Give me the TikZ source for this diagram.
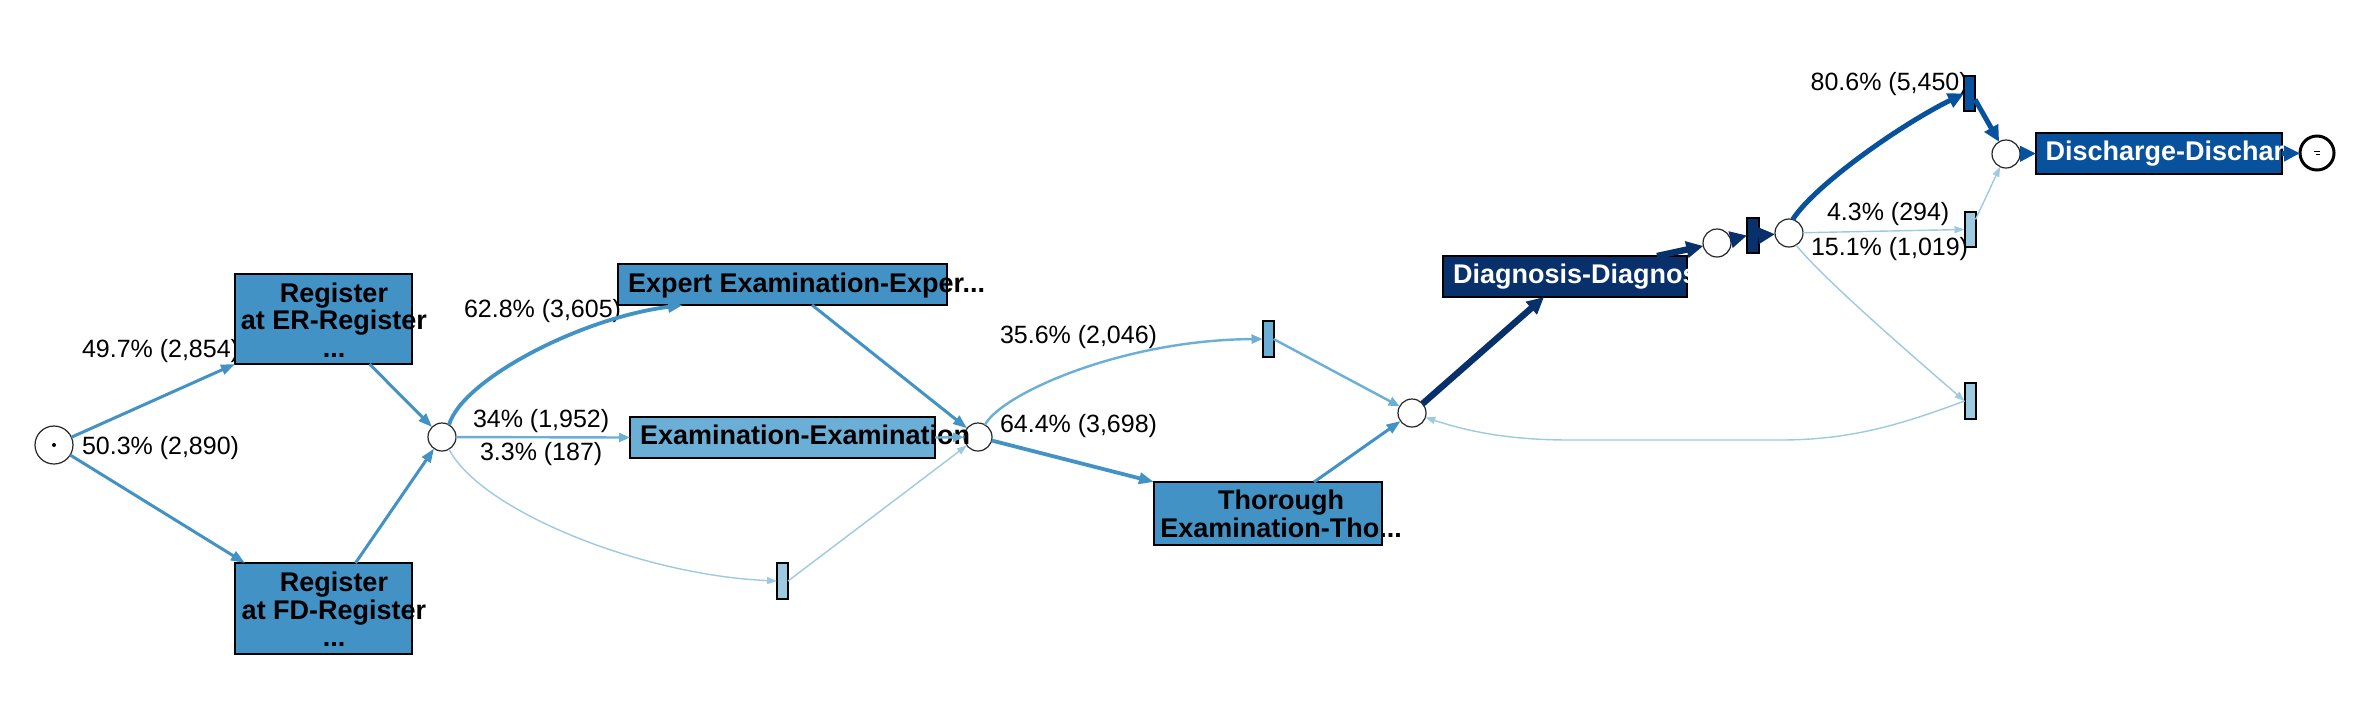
\documentclass[tikz,border=0pt]{standalone}
\usepackage{fontspec}
\setmainfont{Liberation Sans}
\usetikzlibrary{arrows.meta}
\definecolor{cA}{HTML}{4292C6}
\definecolor{cB}{HTML}{6BAED6}
\definecolor{cC}{HTML}{9ECAE1}
\definecolor{cD}{HTML}{08306B}
\definecolor{cE}{HTML}{08519C}
\begin{document}
\begin{tikzpicture}[x=0.5pt,y=-0.5pt,
  every node/.style={inner sep=0pt, outer sep=0pt},
  box/.style={draw=black, line width=1pt, rectangle},
  pl/.style={circle, draw=black!85, line width=0.6pt, minimum size=14pt},
  bar/.style={draw=black, line width=1pt, rectangle, minimum width=5.5pt, minimum height=17.5pt},
  lbl/.style={anchor=base west, font=\fontsize{12.5}{15}\selectfont},
  ttl/.style={font=\fontsize{13.5}{13.75}\selectfont\bfseries},
  eA/.style={draw=cA, line width=1.5pt, -{Triangle[length=7pt,width=5pt]}},
  eAA/.style={draw=cA, line width=1.9pt, -{Triangle[length=7.5pt,width=5.5pt]}},
  eB/.style={draw=cB, line width=1.2pt, -{Triangle[length=5.5pt,width=4.5pt]}},
  eC/.style={draw=cC, line width=0.7pt, -{Triangle[length=5pt,width=3.5pt]}},
  eD/.style={draw=cD, line width=3.2pt, -{Triangle[length=8.5pt,width=8pt]}},
  eE/.style={draw=cE, line width=2.5pt, -{Triangle[length=8pt,width=7.5pt]}}
]
\fill[white] (0,0) rectangle (2380,708);
\useasboundingbox (0,0) rectangle (2380,708);

% labels
\node[lbl] (l1) at (82,357) {49.7\% (2,854)};
\node[lbl] (l2) at (82,454) {50.3\% (2,890)};
\node[lbl] (l3) at (464,317) {62.8\% (3,605)};
\node[lbl] (l4) at (473,427) {34\% (1,952)};
\node[lbl] (l5) at (480,460) {3.3\% (187)};
\node[lbl] (l6) at (1000,343) {35.6\% (2,046)};
\node[lbl] (l7) at (1000,432) {64.4\% (3,698)};
\node[lbl] (l8) at (1827,220) {4.3\% (294)};
\node[lbl] (l9) at (1811,255) {15.1\% (1,019)};
\node[lbl] (l10) at (1810.6,90) {80.6\% (5,450)};

% boxes
\node[box, fill=cA, minimum width=88.5pt, minimum height=45pt] (er) at (323.5,319) {};
\node[box, fill=cA, minimum width=88.5pt, minimum height=45.5pt] (fd) at (323.5,608.5) {};
\node[box, fill=cA, minimum width=164.5pt, minimum height=20.5pt] (expert) at (782.5,284.5) {};
\node[box, fill=cB, minimum width=152.5pt, minimum height=20.5pt] (exam) at (782.5,437.5) {};
\node[box, fill=cA, minimum width=114pt, minimum height=31.5pt] (thor) at (1268,513.5) {};
\node[box, fill=cD, minimum width=122pt, minimum height=20.5pt] (diag) at (1565,276.5) {};
\node[box, fill=cE, minimum width=123pt, minimum height=20.5pt] (dis) at (2159,153.5) {};

% places
\node[pl, minimum size=19pt] (start) at (54,445) {};
\node[pl] (p2) at (442,437) {};
\node[pl] (p3) at (978,437) {};
\node[pl] (p4) at (1412,413) {};
\node[pl] (p5) at (1717,243) {};
\node[pl] (p6) at (1789,233) {};
\node[pl] (p7) at (2006,154) {};
\node[circle, draw=black, line width=1.5pt, minimum size=17pt] (end) at (2317,153) {};

% bars
\node[bar, fill=cC, minimum height=18pt] (bar1) at (782.5,581) {};
\node[bar, fill=cB, minimum height=18pt] (bar2) at (1268,339) {};
\node[bar, fill=cD, minimum width=6pt] (bar3) at (1753,235.5) {};
\node[bar, fill=cC] (bar4) at (1970,229.5) {};
\node[bar, fill=cC, minimum height=18pt] (bar5) at (1970,401) {};
\node[bar, fill=cE] (bar6) at (1969.5,93.5) {};

% box texts
\node[ttl, align=center] (erT) at (334,320) {Register\\at ER-Register\\...};
\node[ttl, align=center] (fdT) at (334,609.5) {Register\\at FD-Register\\...};
\node[ttl, anchor=base west] (expT) at (628,292) {Expert Examination-Exper...};
\node[ttl, anchor=base west] (examT) at (640,444) {Examination-Examination};
\node[ttl, align=center] (thorT) at (1281,514) {Thorough\\Examination-Tho...};
\node[ttl, anchor=base west, text=white] (diagT) at (1453,283) {Diagnosis-Diagnos};
\node[ttl, anchor=base west, text=white] (disT) at (2045.6,160) {Discharge-Dischar};

% marks in start / end
\fill (start.center) circle (1pt);
\draw[line width=0.5pt] ([xshift=-1.5pt,yshift=1pt]end.center) -- ++(3pt,0);
\draw[line width=0.5pt] ([xshift=-0.5pt,yshift=-0.5pt]end.center) -- ++(2pt,0);

% edges
\draw[eA] (start) -- (er.south west);
\draw[eA] (start) -- ([xshift=5pt]fd.north west);
\draw[eA] ([xshift=23pt]er.south) -- (p2);
\draw[eA] ([xshift=16pt]fd.north) -- (p2);
\draw[eAA] (p2.60) .. controls (462,380) and (580,318) .. ([xshift=32.5pt]expert.south west);
\draw[eB] (p2) -- (exam.west);
\draw[eC] (p2.-60) .. controls (480,510) and (640,575) .. (bar1.west);
\draw[eC] (bar1.east) -- (p3);
\draw[eA] ([xshift=14.75pt]expert.south) -- (p3);
\draw[eB] (exam.east) -- (p3);
\draw[eB] (p3.60) .. controls (1000,395) and (1120,340) .. (bar2.west);
\draw[eAA] (p3) -- (thor.north west);
\draw[eB] (bar2.east) -- (p4);
\draw[eA] ([xshift=23pt]thor.north) -- (p4);
\draw[eD] (p4) -- ([xshift=-10.5pt]diag.south);
\draw[eD] ([xshift=46pt]diag.north) -- (p5);
\draw[eD] (p5) -- (bar3.west);
\draw[eD] (bar3.east) -- (p6);
\draw[eE] (p6.75) .. controls (1815,185) and (1900,125) .. (bar6.west);
\draw[eC] (p6) -- (bar4.west);
\draw[eC] (p6.-60) .. controls (1825,280) and (1900,345) .. (bar5.west);
\draw[eE] ([yshift=-3pt]bar6.east) -- (p7);
\draw[eC] ([yshift=5pt]bar4.east) -- (p7);
\draw[eC] (bar5.west) .. controls (1900,425) and (1850,440) .. (1780,440) -- (1570,440) .. controls (1510,440) and (1470,432) .. (p4);
\draw[eE] (p7) -- (dis.west);
\draw[eE] (dis.east) -- (end);
\end{tikzpicture}
\end{document}
